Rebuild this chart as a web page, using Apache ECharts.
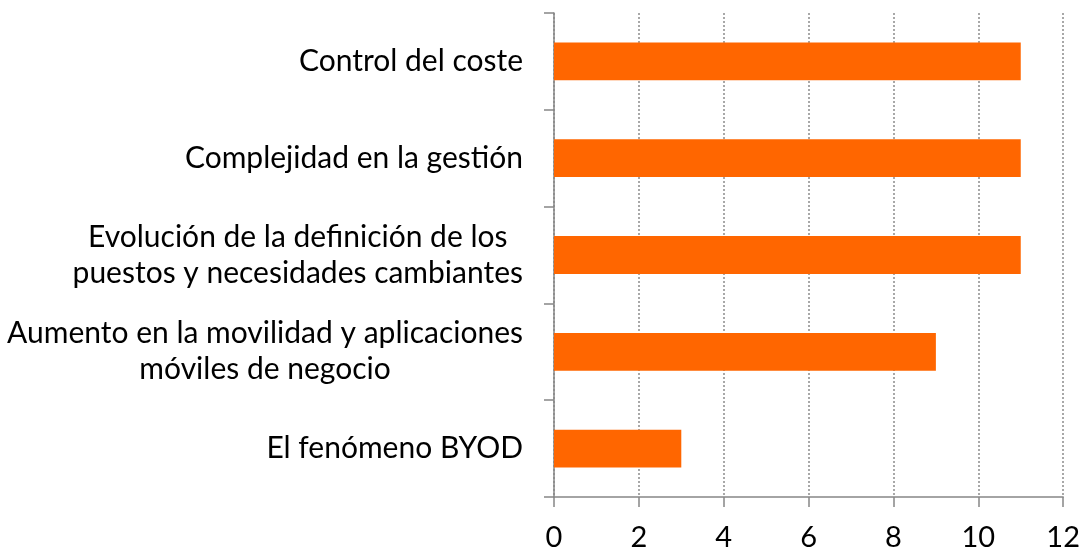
<!DOCTYPE html>
<html>
<head>
<meta charset="utf-8">
<script src="https://cdn.jsdelivr.net/npm/echarts@6/dist/echarts.min.js"></script>
<style>
html,body{margin:0;padding:0;background:#fff;}
#main{width:1083px;height:552px;}
</style>
</head>
<body>
<div id="main"></div>
<script>
const categories = [
  "El fenómeno BYOD",
  "Aumento en la movilidad y aplicaciones\nmóviles de negocio",
  "Evolución de la definición de los\npuestos y necesidades cambiantes",
  "Complejidad en la gestión",
  "Control del coste"
];
const values = [3, 9, 11, 11, 11];
const xTicks = { min: 0, max: 12, interval: 2 };

const chart = echarts.init(document.getElementById('main'));
const FONT = 'Lato';
chart.setOption({
  animation: false,
  backgroundColor: '#ffffff',
  grid: { left: 554, right: 17, top: 13, bottom: 55, containLabel: false },
  xAxis: {
    type: 'value',
    min: xTicks.min, max: xTicks.max, interval: xTicks.interval,
    axisLine: { show: true, lineStyle: { color: '#868686', width: 1.5 } },
    axisTick: { show: true, length: 10, lineStyle: { color: '#868686', width: 1.5 } },
    splitLine: { show: true, lineStyle: { color: '#8c8c8c', type: [2, 2], width: 1.5 } },
    axisLabel: { color: '#000', fontSize: 29, fontFamily: FONT, margin: 26 }
  },
  yAxis: {
    type: 'category',
    data: categories,
    boundaryGap: true,
    axisLine: { show: true, lineStyle: { color: '#868686', width: 1.5 } },
    axisTick: { show: true, length: 10, alignWithLabel: false, lineStyle: { color: '#868686', width: 1.5 } },
    splitLine: { show: false },
    axisLabel: {
      margin: 31,
      align: 'right',
      formatter: function (v) {
        return v.split('\n').map(function (l) { return '{c|' + l + '}'; }).join('\n');
      },
      rich: {
        c: { align: 'center', color: '#000', fontSize: 30, fontFamily: FONT, lineHeight: 36 }
      }
    }
  },
  series: [{
    type: 'bar',
    data: values,
    barWidth: '39%',
    itemStyle: { color: '#FF6600' },
    silent: true
  }]
});
</script>
</body>
</html>
